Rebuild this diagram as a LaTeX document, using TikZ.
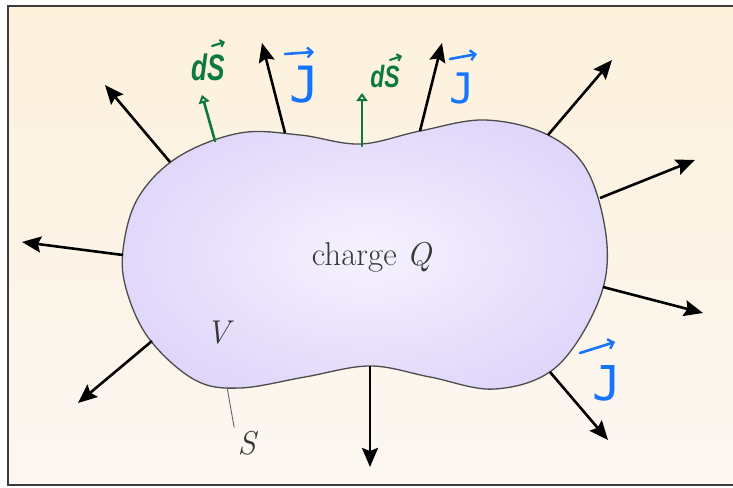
\documentclass[tikz,border=0pt]{standalone}
\usepackage{fontspec}
\usepackage{graphicx}
\newfontfamily\handsans{Liberation Sans}
\newfontfamily\handmono{DejaVu Sans Mono}
\usetikzlibrary{arrows.meta}
\definecolor{bgtop}{RGB}{253,241,220}
\definecolor{bgbot}{RGB}{252,247,242}
\definecolor{lavin}{RGB}{246,242,254}
\definecolor{lavout}{RGB}{222,213,250}
\definecolor{hgreen}{RGB}{12,122,58}
\definecolor{hblue}{RGB}{22,116,255}
\definecolor{frame}{RGB}{60,60,60}
\tikzset{
  flux/.style={line width=2.6pt, -{Stealth[length=19pt,width=16pt,inset=3pt]}},
  darrow/.style={hgreen, line width=2.6pt, line cap=round, -{Triangle[open,length=8pt,width=11pt,line width=2.2pt]}},
  garr/.style={hgreen, line width=2.2pt, line cap=round, -{Straight Barb[length=3.5pt,width=7pt,line width=2pt]}},
  barr/.style={hblue, line width=2.6pt, line cap=round, -{Straight Barb[length=5pt,width=10pt,line width=2.4pt]}},
  glab/.style={text=hgreen, inner sep=0pt, anchor=base},
  blab/.style={text=hblue, inner sep=0pt, anchor=base},
  mainlab/.style={text=black!78, font=\fontsize{33}{35}\selectfont},
}
\begin{document}
\begin{tikzpicture}[x=1pt,y=-1pt]
\useasboundingbox (0,0) rectangle (733,487);
\fill[white] (0,0) rectangle (733,487);
\shade[top color=bgtop, bottom color=bgbot] (8,6) rectangle (745,485);
\draw[frame, line width=2pt] (745,6) -- (8,6) -- (8,485) -- (745,485);

% blob
\def\blob{plot[smooth cycle, tension=0.6] coordinates {(123,250) (138,198) (178,157) (240,133) (300,135) (360,144) (420,131) (485,120) (548,135) (588,172) (607,245) (597,305) (555,368) (495,389) (430,377) (370,366) (305,377) (240,388) (195,380) (150,340) (127,292)}}
\begin{scope}
\clip \blob;
\shade[inner color=lavin, outer color=lavout] (368,255) ellipse (275 and 160);
\end{scope}
\draw[black!70, line width=1.3pt] \blob;

% coordinates for arrows
\coordinate (s1) at (170,162); \coordinate (t1) at (105,85);
\coordinate (s2) at (285,133); \coordinate (t2) at (262,43);
\coordinate (s3) at (420,131); \coordinate (t3) at (442,43);
\coordinate (s4) at (548,135); \coordinate (t4) at (612,60);
\coordinate (s5) at (600,198); \coordinate (t5) at (695,160);
\coordinate (s6) at (603,287); \coordinate (t6) at (703,313);
\coordinate (s7) at (550,372); \coordinate (t7) at (608,440);
\coordinate (s8) at (370,366); \coordinate (t8) at (370,467);
\coordinate (s9) at (152,341); \coordinate (t9) at (78,403);
\coordinate (s10) at (123,255); \coordinate (t10) at (22,242);
\foreach \i in {1,...,10} {\draw[flux] (s\i) -- (t\i);}

% labels
\node[mainlab] (q) at (372,257) {charge \textit{Q}};
\node[mainlab] (v) at (220,333) {\textit{V}};
\node[mainlab] (s) at (248,443) {\textit{S}};
\coordinate (sl) at (227,387);
\draw[black!60, line width=0.9pt] (sl) -- (s.north west);

% handwritten annotations
\coordinate (g1s) at (215,141); \coordinate (g1t) at (202,95);
\coordinate (g2s) at (362,146); \coordinate (g2t) at (362,93);
\draw[darrow] (g1s) -- (g1t);
\draw[darrow] (g2s) -- (g2t);

\node[glab, font=\fontsize{32}{34}\selectfont\handsans\bfseries\itshape] (ds1) at (208,80) {\scalebox{0.82}[1.15]{dS}};
\draw[garr] ([shift={(4,-34)}]ds1.base) -- ([shift={(17,-38)}]ds1.base);
\node[glab, font=\fontsize{28}{30}\selectfont\handsans\bfseries\itshape] (ds2) at (385,88) {\scalebox{0.82}[1.1]{dS}};
\draw[garr] ([shift={(5,-28)}]ds2.base) -- ([shift={(17,-32)}]ds2.base);

\node[blab, font=\fontsize{50}{52}\selectfont\handmono] (j1) at (305,102) {J};
\draw[barr] ([shift={(-20,-48)}]j1.base) -- ([shift={(9,-50)}]j1.base);
\node[blab, font=\fontsize{42}{44}\selectfont\handmono] (j2) at (462,103) {J};
\draw[barr] ([shift={(-12,-44)}]j2.base) -- ([shift={(15,-49)}]j2.base);
\node[blab, font=\fontsize{48}{50}\selectfont\handmono] (j3) at (607,400) {J};
\draw[barr] ([shift={(-27,-47)}]j3.base) -- ([shift={(8,-58)}]j3.base);
\end{tikzpicture}
\end{document}
